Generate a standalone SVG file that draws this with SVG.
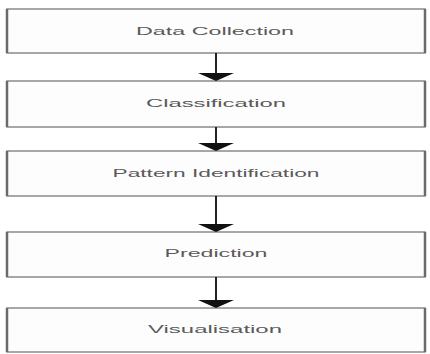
<svg xmlns="http://www.w3.org/2000/svg" width="430" height="354" viewBox="0 0 430 354">
<style>
.box{fill:#fdfdfd;stroke:#8a8a8a;stroke-width:1.5}
.side{stroke:#6a6a6a;stroke-width:2.5}
.lbl{font-family:"Liberation Sans",Arial,sans-serif;font-size:11px;fill:#5a5a5a;text-anchor:middle}
.conn{stroke:#222;stroke-width:2}
.head{fill:#111}
</style>
<rect width="430" height="354" fill="#fff"/>
<g id="n1">
<rect class="box" x="7" y="9" width="418" height="44"/>
<line class="side" x1="7" y1="9" x2="7" y2="53"/><line class="side" x1="425" y1="9" x2="425" y2="53"/>
<text class="lbl" x="215" y="35" textLength="158" lengthAdjust="spacingAndGlyphs">Data Collection</text>
</g>
<g id="n2">
<rect class="box" x="7" y="81" width="418" height="46"/>
<line class="side" x1="7" y1="81" x2="7" y2="127"/><line class="side" x1="425" y1="81" x2="425" y2="127"/>
<text class="lbl" x="216" y="107" textLength="140" lengthAdjust="spacingAndGlyphs">Classification</text>
</g>
<g id="n3">
<rect class="box" x="7" y="151" width="418" height="45"/>
<line class="side" x1="7" y1="151" x2="7" y2="196"/><line class="side" x1="425" y1="151" x2="425" y2="196"/>
<text class="lbl" x="216" y="177" textLength="207" lengthAdjust="spacingAndGlyphs">Pattern Identification</text>
</g>
<g id="n4">
<rect class="box" x="7" y="232" width="418" height="45"/>
<line class="side" x1="7" y1="232" x2="7" y2="277"/><line class="side" x1="425" y1="232" x2="425" y2="277"/>
<text class="lbl" x="216" y="257" textLength="103" lengthAdjust="spacingAndGlyphs">Prediction</text>
</g>
<g id="n5">
<rect class="box" x="7" y="308" width="418" height="44"/>
<line class="side" x1="7" y1="308" x2="7" y2="352"/><line class="side" x1="425" y1="308" x2="425" y2="352"/>
<text class="lbl" x="215" y="333" textLength="134" lengthAdjust="spacingAndGlyphs">Visualisation</text>
</g>
<g id="connectors">
<line class="conn" x1="216" y1="53" x2="216" y2="74"/>
<polygon class="head" points="198,73 234,73 216,81"/>
<line class="conn" x1="216" y1="127" x2="216" y2="144"/>
<polygon class="head" points="198,143 234,143 216,151"/>
<line class="conn" x1="216" y1="196" x2="216" y2="225"/>
<polygon class="head" points="198,224 234,224 216,232"/>
<line class="conn" x1="216" y1="277" x2="216" y2="301"/>
<polygon class="head" points="198,300 234,300 216,308"/>
</g>
</svg>
